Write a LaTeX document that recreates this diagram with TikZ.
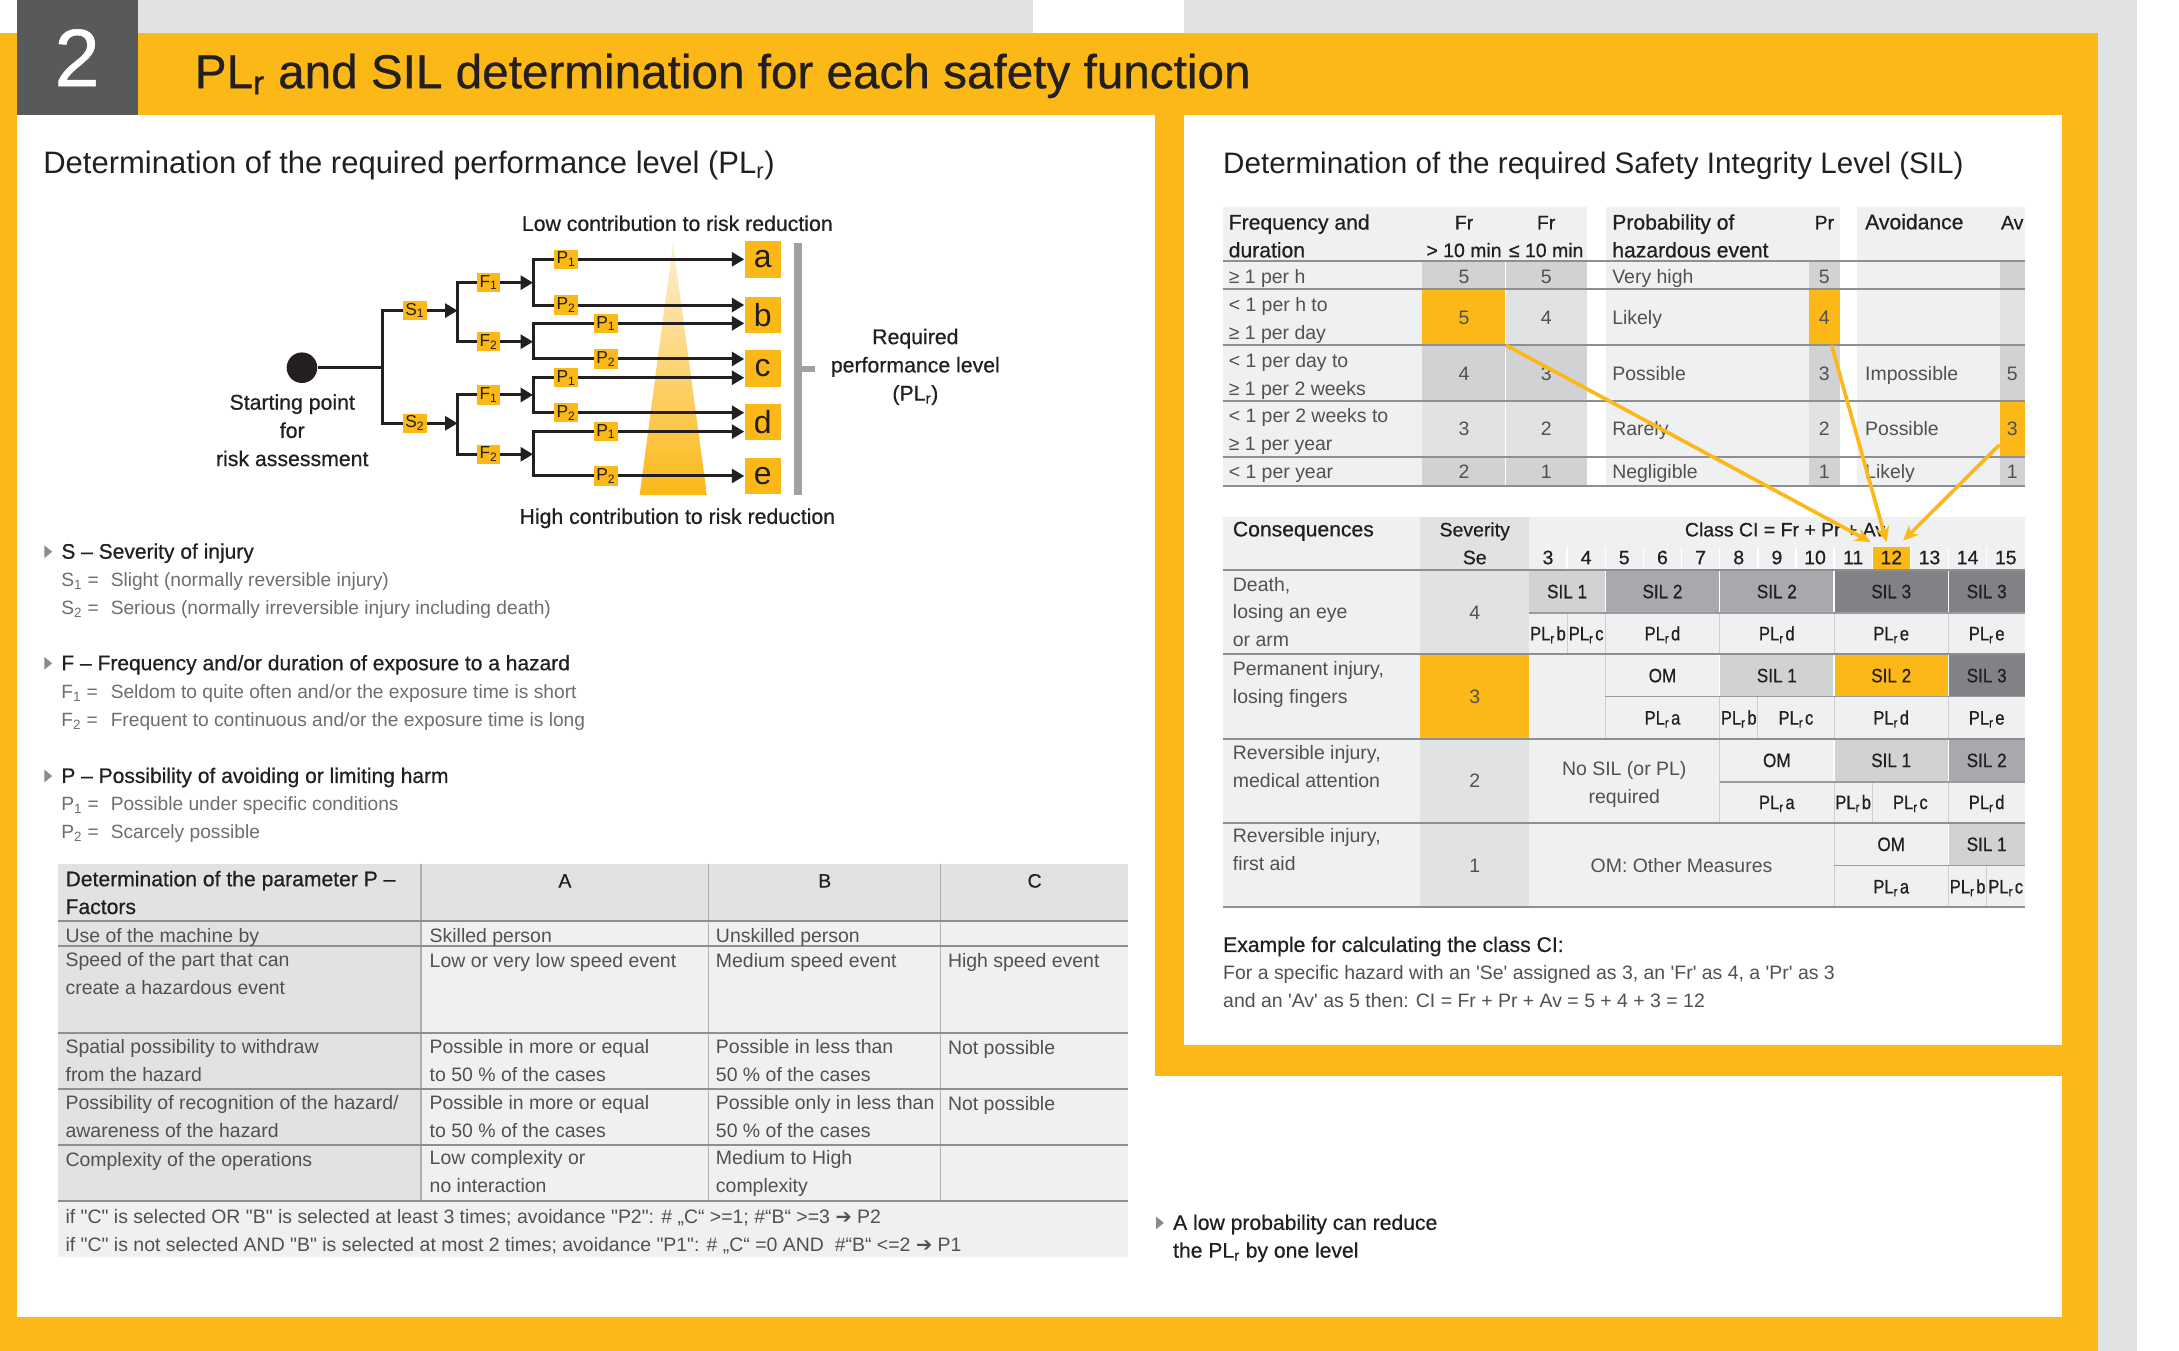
\documentclass[tikz,border=0pt]{standalone}
\usepackage{fontspec}
\setmainfont{Liberation Sans}
\newfontfamily\plainf{Liberation Sans}
\newfontfamily\medf{Liberation Sans}[FakeBold=0.6]
\newfontfamily\djv{DejaVu Sans}
\usepackage{graphicx}
\usetikzlibrary{arrows.meta}
\definecolor{pyellow}{HTML}{FBB817}
\definecolor{ypale}{HTML}{FEF0D2}
\definecolor{dgray}{HTML}{58595B}
\definecolor{lgray}{HTML}{E1E2E4}
\definecolor{tblack}{HTML}{231F20}
\definecolor{tgray}{HTML}{505153}
\definecolor{lgtxt}{HTML}{6D6E71}
\definecolor{cellL}{HTML}{EFF0F1}
\definecolor{cellM}{HTML}{E1E2E4}
\definecolor{cellD}{HTML}{D1D2D4}
\definecolor{silB}{HTML}{A7A9AC}
\definecolor{silC}{HTML}{808285}
\definecolor{hrule}{HTML}{8E8F91}
\definecolor{mrule}{HTML}{9A9B9D}
\definecolor{vrule}{HTML}{CDCED0}
\definecolor{lvrule}{HTML}{AEAFB1}
\definecolor{bargray}{HTML}{A0A1A3}
\definecolor{bulgray}{HTML}{8A8B8D}
\newcommand\ff[2]{\plainf\fontsize{#1}{#2}\selectfont}
\newcommand\mf[2]{\medf\fontsize{#1}{#2}\selectfont}
\newcommand\sub[1]{\textsubscript{#1}}
\newcommand\PLr[1]{PL\sub{r}\kern1.5pt#1}
\newcommand\PLn[1]{\scalebox{0.85}[1]{\PLr{#1}}}
\newcommand\cz[1]{\scalebox{0.88}[1]{#1}}
\newcommand\E[1]{1100.2+27.45*(#1-3)}
\tikzset{
  body/.style={font=\ff{14}{20}, text=tgray},
  bl/.style={body, anchor=base west},
  bc/.style={body, anchor=base},
  hd/.style={font=\mf{15.2}{20}, text=tblack, anchor=base west},
  hdc/.style={font=\mf{14}{20}, text=tblack, anchor=base},
  lhd/.style={font=\mf{15.1}{20}, text=tblack, anchor=base west},
  lit/.style={font=\ff{13.8}{20}, text=lgtxt, anchor=base west},
  cellt/.style={body, anchor=north west, align=left, execute at begin node={\rule{0pt}{11pt}}},
  cellh/.style={cellt, font=\mf{15.2}{20}, text=tblack},
  tline/.style={line width=2.2pt, draw=tblack},
  arr/.style={tline, -{Triangle[length=9pt,width=10pt]}},
  lab/.style={fill=pyellow, minimum width=17pt, minimum height=14pt, font=\ff{12.5}{13}, text=tblack},
  lbox/.style={fill=pyellow, minimum size=26pt, font=\ff{23}{23}, text=tblack},
  gtxt/.style={font=\mf{15.3}{20.3}, text=tblack, align=center},
  yarr/.style={draw=pyellow, line width=2.6pt, -{Stealth[length=11pt,width=10pt]}},
  hr/.style={draw=hrule, line width=1.3pt},
  mr/.style={draw=mrule, line width=1.2pt},
  vr/.style={draw=vrule, line width=0.8pt},
  lvr/.style={draw=lvrule, line width=0.9pt},
  wr/.style={draw=white, line width=1pt},
  bul/.style={fill=bulgray},
}
\begin{document}
\begin{tikzpicture}[x=1pt,y=-1pt, every node/.style={inner sep=0pt}]
\useasboundingbox (0,0) rectangle (1568,972);
% ---------- background ----------
\fill[white] (0,0) rectangle (1568,972);
\fill[lgray] (99,0) rectangle (743,24);
\fill[lgray] (852,0) rectangle (1538,24);
\fill[lgray] (1510,24) rectangle (1538,972);
\fill[pyellow] (0,24) rectangle (1510,972);
\fill[dgray] (12,0) rectangle (99,83);
\node[font=\mf{58.7}{60}, text=white, anchor=base] (num) at (55.5,62) {2};
\node[font=\mf{34.3}{40}, text=tblack, anchor=base west] (title) at (140,63.5) {PL\sub{r} and SIL determination for each safety function};
\fill[white] (12,83) rectangle (831,948);
\fill[white] (852,83) rectangle (1484,752);
\fill[white] (831,774) rectangle (1484,948);
\node[font=\ff{22.3}{26}, text=tblack, anchor=base west] (hleft) at (31,125) {Determination of the required performance level (PL\sub{r})};
\node[font=\ff{21.3}{26}, text=tblack, anchor=base west] (hright) at (880,125) {Determination of the required Safety Integrity Level (SIL)};

% ---------- risk graph ----------
\shade[top color=ypale, bottom color=pyellow] (484.3,175.1) -- (508.7,356.2) -- (460.3,356.2) -- cycle;
\node[gtxt] (low) at (487.4,160.7) {Low contribution to risk reduction};
\node[gtxt] (high) at (487.4,373) {High contribution to risk reduction};
\node[circle, fill=tblack, minimum size=22pt] (start) at (217.3,264.6) {};
\node[gtxt] (startlbl) at (210.3,309.6) {Starting point\\for\\risk assessment};
\node[lbox] (a) at (548.8,186.7) {a};
\node[lbox] (b) at (548.8,226.4) {b};
\node[lbox] (c) at (548.8,265.2) {c};
\node[lbox] (d) at (548.8,303.8) {d};
\node[lbox] (e) at (548.8,342.8) {e};
\fill[bargray] (571.5,174.6) rectangle (577.3,356.2);
\fill[bargray] (577.3,263.3) rectangle (586.2,267.7);
\node[gtxt] (req) at (658.7,264) {Required\\performance level\\(PL\sub{r})};

\coordinate (j0) at (275.1,264.6);
\coordinate (jS1) at (275.1,223.5);
\coordinate (jS2) at (275.1,304.6);
\coordinate (kS1) at (329.3,223.5);
\coordinate (kS2) at (329.3,304.6);
\draw[tline] (start) -- (j0);
\draw[tline, line cap=rect] (jS1) -- (jS2);
\draw[arr] (jS1) -- (kS1);
\draw[arr] (jS2) -- (kS2);
\coordinate (f1a) at (329.3,203.4); \coordinate (f2a) at (329.3,245.9);
\coordinate (f1b) at (329.3,284.2); \coordinate (f2b) at (329.3,326.9);
\coordinate (g1a) at (383.6,203.4); \coordinate (g2a) at (383.6,245.9);
\coordinate (g1b) at (383.6,284.2); \coordinate (g2b) at (383.6,326.9);
\draw[tline, line cap=rect] (f1a) -- (f2a);
\draw[tline, line cap=rect] (f1b) -- (f2b);
\draw[arr] (f1a) -- (g1a);
\draw[arr] (f2a) -- (g2a);
\draw[arr] (f1b) -- (g1b);
\draw[arr] (f2b) -- (g2b);
\coordinate (p11) at (383.6,186.6); \coordinate (p12) at (383.6,219.5);
\coordinate (p21) at (383.6,232.7); \coordinate (p22) at (383.6,258.3);
\coordinate (p31) at (383.6,271.8); \coordinate (p32) at (383.6,297);
\coordinate (p41) at (383.6,310.6); \coordinate (p42) at (383.6,342.5);
\draw[tline, line cap=rect] (p11) -- (p12);
\draw[tline, line cap=rect] (p21) -- (p22);
\draw[tline, line cap=rect] (p31) -- (p32);
\draw[tline, line cap=rect] (p41) -- (p42);
\draw[arr] (p11) -- (p11 -| a.west);
\draw[arr] (p12) -- (p12 -| b.west);
\draw[arr] (p21) -- (p21 -| b.west);
\draw[arr] (p22) -- (p22 -| c.west);
\draw[arr] (p31) -- (p31 -| c.west);
\draw[arr] (p32) -- (p32 -| d.west);
\draw[arr] (p41) -- (p41 -| d.west);
\draw[arr] (p42) -- (p42 -| e.west);
\node[lab] (S1) at (298.5,223.5) {S\sub{1}};
\node[lab] (S2) at (298.5,304.6) {S\sub{2}};
\node[lab] (F1a) at (351.6,203.4) {F\sub{1}};
\node[lab] (F2a) at (351.6,245.9) {F\sub{2}};
\node[lab] (F1b) at (351.6,284.2) {F\sub{1}};
\node[lab] (F2b) at (351.6,326.9) {F\sub{2}};
\node[lab] (P11) at (407.4,186.6) {P\sub{1}};
\node[lab] (P12) at (407.4,219.5) {P\sub{2}};
\node[lab] (P21) at (436,232.7) {P\sub{1}};
\node[lab] (P22) at (436,258.3) {P\sub{2}};
\node[lab] (P31) at (407.4,271.8) {P\sub{1}};
\node[lab] (P32) at (407.4,297) {P\sub{2}};
\node[lab] (P41) at (436,310.6) {P\sub{1}};
\node[lab] (P42) at (436,342.5) {P\sub{2}};

% ---------- legend list ----------
\fill[bul] (32,392.5) -- (37.5,397) -- (32,401.5) -- cycle;
\node[lhd] (hS) at (44,402) {S – Severity of injury};
\node[lit] (s1l) at (44,422) {S\sub{1} =};
\node[lit] (s1t) at (79.5,422) {Slight (normally reversible injury)};
\node[lit] (s2l) at (44,442) {S\sub{2} =};
\node[lit] (s2t) at (79.5,442) {Serious (normally irreversible injury including death)};
\fill[bul] (32,472.8) -- (37.5,477.3) -- (32,481.8) -- cycle;
\node[lhd] (hF) at (44,482.3) {F – Frequency and/or duration of exposure to a hazard};
\node[lit] (f1l) at (44,502.7) {F\sub{1} =};
\node[lit] (f1t) at (79.5,502.7) {Seldom to quite often and/or the exposure time is short};
\node[lit] (f2l) at (44,522.6) {F\sub{2} =};
\node[lit] (f2t) at (79.5,522.6) {Frequent to continuous and/or the exposure time is long};
\fill[bul] (32,553.9) -- (37.5,558.4) -- (32,562.9) -- cycle;
\node[lhd] (hP) at (44,563.4) {P – Possibility of avoiding or limiting harm};
\node[lit] (p1l) at (44,583) {P\sub{1} =};
\node[lit] (p1t) at (79.5,583) {Possible under specific conditions};
\node[lit] (p2l) at (44,603.5) {P\sub{2} =};
\node[lit] (p2t) at (79.5,603.5) {Scarcely possible};

% ---------- left table ----------
\fill[cellL] (42,621.7) rectangle (812,904.3);
\fill[cellM] (42,621.7) rectangle (812,662.7);
\fill[cellM] (42,662.7) rectangle (303,864);
\foreach \x in {303,510,677} \draw[lvr] (\x,621.7) -- (\x,864);
\foreach \y in {662.7,680.7,743.6,783.9,823.9,864} \draw[hr] (42,\y) -- (812,\y);
\node[cellh] (t00) at (47,626.5) {Determination of the parameter P –\\Factors};
\node[hdc] (tA) at (406.5,638.7) {A};
\node[hdc] (tB) at (593.5,638.7) {B};
\node[hdc] (tC) at (744.5,638.7) {C};
\node[cellt] at (47,667.2) {Use of the machine by};
\node[cellt] at (309,667.2) {Skilled person};
\node[cellt] at (515,667.2) {Unskilled person};
\node[cellt] at (47,685.2) {Speed of the part that can\\create a hazardous event};
\node[cellt] at (309,685.2) {Low or very low speed event};
\node[cellt] at (515,685.2) {Medium speed event};
\node[cellt] at (682,685.2) {High speed event};
\node[cellt] at (47,747.6) {Spatial possibility to withdraw\\from the hazard};
\node[cellt] at (309,747.6) {Possible in more or equal\\to 50 \% of the cases};
\node[cellt] at (515,747.6) {Possible in less than\\50 \% of the cases};
\node[cellt] at (682,747.6) {Not possible};
\node[cellt] at (47,787.9) {Possibility of recognition of the hazard/\\awareness of the hazard};
\node[cellt] at (309,787.9) {Possible in more or equal\\to 50 \% of the cases};
\node[cellt] at (515,787.9) {Possible only in less than\\50 \% of the cases};
\node[cellt] at (682,787.9) {Not possible};
\node[cellt] at (47,827.9) {Complexity of the operations};
\node[cellt] at (309,827.9) {Low complexity or\\no interaction};
\node[cellt] at (515,827.9) {Medium to High\\complexity};
\node[cellt] at (47,870) {if "C" is selected OR "B" is selected at least 3 times; avoidance "P2": \# „C“ >=1; \#“B“ >=3 {\djv ➔} P2\\if "C" is not selected AND "B" is selected at most 2 times; avoidance "P1": \# „C“ =0 AND \ \#“B“ <=2 {\djv ➔} P1};

% ---------- right upper table ----------
\fill[cellL] (880,148.7) rectangle (1141.7,349.5);
\fill[cellL] (1155.5,148.7) rectangle (1323.9,349.5);
\fill[cellL] (1336.4,148.7) rectangle (1457,349.5);
\foreach \xa/\xb in {1023.6/1083.5,1083.5/1141.7,1301.8/1323.9,1438.9/1457} {
  \fill[cellD] (\xa,187.6) rectangle (\xb,208.2);
  \fill[cellM] (\xa,208.2) rectangle (\xb,248.3);
  \fill[cellD] (\xa,248.3) rectangle (\xb,288.5);
  \fill[cellM] (\xa,288.5) rectangle (\xb,328.6);
  \fill[cellD] (\xa,328.6) rectangle (\xb,349.5);
}
\fill[pyellow] (1023.6,208.2) rectangle (1083.5,248.3);
\fill[pyellow] (1301.8,208.2) rectangle (1323.9,248.3);
\fill[pyellow] (1438.9,288.5) rectangle (1457,328.6);
\draw[wr] (1083.5,187.6) -- (1083.5,349.5);
\foreach \y in {187.6,208.2,248.3,288.5,328.6,349.5} \draw[hr] (880,\y) -- (1457,\y);
\node[cellh] at (884,154) {Frequency and\\duration};
\node[hdc] at (1053.5,165) {Fr};
\node[hdc] at (1053.5,185) {> 10 min};
\node[hdc] at (1112.6,165) {Fr};
\node[hdc] at (1112.6,185) {≤ 10 min};
\node[cellh] at (1160,154) {Probability of\\hazardous event};
\node[hdc] at (1312.8,165) {Pr};
\node[hd] at (1342,165) {Avoidance};
\node[hdc] at (1448,165) {Av};
% row 1
\node[bl] at (884,204) {≥ 1 per h};
\node[bc] at (1053.5,204) {5};
\node[bc] at (1112.6,204) {5};
\node[bl] at (1160,204) {Very high};
\node[bc] at (1312.8,204) {5};
% row 2
\node[cellt] at (884,214) {< 1 per h to\\≥ 1 per day};
\node[bc] at (1053.5,233.5) {5};
\node[bc] at (1112.6,233.5) {4};
\node[bl] at (1160,233.5) {Likely};
\node[bc] at (1312.8,233.5) {4};
% row 3
\node[cellt] at (884,254) {< 1 per day to\\≥ 1 per 2 weeks};
\node[bc] at (1053.5,273.5) {4};
\node[bc] at (1112.6,273.5) {3};
\node[bl] at (1160,273.5) {Possible};
\node[bc] at (1312.8,273.5) {3};
\node[bl] at (1342,273.5) {Impossible};
\node[bc] at (1448,273.5) {5};
% row 4
\node[cellt] at (884,294) {< 1 per 2 weeks to\\≥ 1 per year};
\node[bc] at (1053.5,313.5) {3};
\node[bc] at (1112.6,313.5) {2};
\node[bl] at (1160,313.5) {Rarely};
\node[bc] at (1312.8,313.5) {2};
\node[bl] at (1342,313.5) {Possible};
\node[bc] at (1448,313.5) {3};
% row 5
\node[bl] at (884,344.5) {< 1 per year};
\node[bc] at (1053.5,344.5) {2};
\node[bc] at (1112.6,344.5) {1};
\node[bl] at (1160,344.5) {Negligible};
\node[bc] at (1312.8,344.5) {1};
\node[bl] at (1342,344.5) {Likely};
\node[bc] at (1448,344.5) {1};

% ---------- right lower table ----------
\fill[cellL] (880,371.8) rectangle (1457.05,652.9);
\fill[cellM] (1022.1,371.8) rectangle (1100.2,652.9);
\fill[pyellow] (1022.1,470.8) rectangle (1100.2,531.5);
\fill[pyellow] ({\E{12}},393.4) rectangle ({\E{13}},410.2);
\fill[cellD] ({\E{3}},410.2) rectangle ({\E{5}},440.9);
\fill[silB] ({\E{5}},410.2) rectangle ({\E{11}},440.9);
\fill[silC] ({\E{11}},410.2) rectangle ({\E{16}},440.9);
\fill[cellD] ({\E{8}},470.8) rectangle ({\E{11}},501.3);
\fill[pyellow] ({\E{11}},470.8) rectangle ({\E{14}},501.3);
\fill[silC] ({\E{14}},470.8) rectangle ({\E{16}},501.3);
\fill[cellD] ({\E{11}},531.5) rectangle ({\E{14}},562.5);
\fill[silB] ({\E{14}},531.5) rectangle ({\E{16}},562.5);
\fill[cellD] ({\E{14}},592) rectangle ({\E{16}},622.9);
% separators
\foreach \k in {4,...,15} \draw[wr] ({\E{\k}},393.4) -- ({\E{\k}},410.2);
\foreach \k in {5,8,11,14} \draw[wr] ({\E{\k}},410.2) -- ({\E{\k}},440.9);
\foreach \k in {4,5,8,11,14} \draw[vr] ({\E{\k}},440.9) -- ({\E{\k}},470.8);
\draw[vr] ({\E{5}},470.8) -- ({\E{5}},501.3);
\foreach \k in {8,11,14} \draw[wr] ({\E{\k}},470.8) -- ({\E{\k}},501.3);
\foreach \k in {5,8,9,11,14} \draw[vr] ({\E{\k}},501.3) -- ({\E{\k}},531.5);
\draw[vr] ({\E{8}},531.5) -- ({\E{8}},562.5);
\foreach \k in {11,14} \draw[wr] ({\E{\k}},531.5) -- ({\E{\k}},562.5);
\foreach \k in {8,11,12,14} \draw[vr] ({\E{\k}},562.5) -- ({\E{\k}},592);
\draw[vr] ({\E{11}},592) -- ({\E{11}},622.9);
\draw[wr] ({\E{14}},592) -- ({\E{14}},622.9);
\foreach \k in {11,14,15} \draw[vr] ({\E{\k}},622.9) -- ({\E{\k}},652.9);
\draw[mr] ({\E{3}},440.9) -- ({\E{16}},440.9);
\draw[mr] ({\E{5}},501.3) -- ({\E{16}},501.3);
\draw[mr] ({\E{8}},562.5) -- ({\E{16}},562.5);
\draw[mr] ({\E{11}},622.9) -- ({\E{16}},622.9);
\foreach \y in {410.2,470.8,531.5,592,652.9} \draw[hr] (880,\y) -- (1457.05,\y);
% header text
\node[hd] at (887,386) {Consequences};
\node[hdc] at (1061.2,386) {Severity};
\node[hdc] at (1061.2,406) {Se};
\node[hdc] at (1284.5,386) {Class CI = Fr + Pr + Av};
\foreach \k in {3,...,15} \node[hdc] at ({\E{\k}+13.725},406) {\k};
% death row
\node[cellt] at (887,415) {Death,\\losing an eye\\or arm};
\node[bc] at (1061.2,445.5) {4};
\node[hdc] at (1127.65,430.5) {\cz{SIL 1}};
\node[hdc] at (1196.3,430.5) {\cz{SIL 2}};
\node[hdc] at (1278.6,430.5) {\cz{SIL 2}};
\node[hdc] at (1360.9,430.5) {\cz{SIL 3}};
\node[hdc] at (1429.6,430.5) {\cz{SIL 3}};
\node[hdc] at (1113.9,460.8) {\PLn{b}};
\node[hdc] at (1141.4,460.8) {\PLn{c}};
\node[hdc] at (1196.3,460.8) {\PLn{d}};
\node[hdc] at (1278.6,460.8) {\PLn{d}};
\node[hdc] at (1360.9,460.8) {\PLn{e}};
\node[hdc] at (1429.6,460.8) {\PLn{e}};
% permanent row
\node[cellt] at (887,476) {Permanent injury,\\losing fingers};
\node[bc] at (1061.2,506) {3};
\node[hdc] at (1196.3,491) {\cz{OM}};
\node[hdc] at (1278.6,491) {\cz{SIL 1}};
\node[hdc] at (1360.9,491) {\cz{SIL 2}};
\node[hdc] at (1429.6,491) {\cz{SIL 3}};
\node[hdc] at (1196.3,521.4) {\PLn{a}};
\node[hdc] at (1251.2,521.4) {\PLn{b}};
\node[hdc] at (1292.35,521.4) {\PLn{c}};
\node[hdc] at (1360.9,521.4) {\PLn{d}};
\node[hdc] at (1429.6,521.4) {\PLn{e}};
% reversible medical
\node[cellt] at (887,536) {Reversible injury,\\medical attention};
\node[bc] at (1061.2,567) {2};
\node[bc] at (1168.8,558) {No SIL (or PL)};
\node[bc] at (1168.8,578) {required};
\node[hdc] at (1278.6,552) {\cz{OM}};
\node[hdc] at (1360.9,552) {\cz{SIL 1}};
\node[hdc] at (1429.6,552) {\cz{SIL 2}};
\node[hdc] at (1278.6,582.2) {\PLn{a}};
\node[hdc] at (1333.5,582.2) {\PLn{b}};
\node[hdc] at (1374.7,582.2) {\PLn{c}};
\node[hdc] at (1429.6,582.2) {\PLn{d}};
% reversible first aid
\node[cellt] at (887,596) {Reversible injury,\\first aid};
\node[bc] at (1061.2,627.5) {1};
\node[bc] at (1210,627.5) {OM: Other Measures};
\node[hdc] at (1360.9,612.4) {\cz{OM}};
\node[hdc] at (1429.6,612.4) {\cz{SIL 1}};
\node[hdc] at (1360.9,642.9) {\PLn{a}};
\node[hdc] at (1415.9,642.9) {\PLn{b}};
\node[hdc] at (1443.3,642.9) {\PLn{c}};

% ---------- yellow arrows ----------
\coordinate (frc) at (1083.5,248.3);
\coordinate (prc) at (1318,248.3);
\coordinate (avc) at (1438.9,320);
\coordinate (ci1) at (1346,390);
\coordinate (ci2) at (1357.5,390);
\coordinate (ci3) at (1369.5,389);
\draw[yarr] (frc) -- (ci1);
\draw[yarr] (prc) -- (ci2);
\draw[yarr] (avc) -- (ci3);

% ---------- example ----------
\node[hd] (exh) at (880,685) {Example for calculating the class CI:};
\node[bl] (ex1) at (880,705) {For a specific hazard with an 'Se' assigned as 3, an 'Fr' as 4, a 'Pr' as 3};
\node[bl] (ex2) at (880,725) {and an 'Av' as 5 then: CI = Fr + Pr + Av = 5 + 4 + 3 = 12};

% ---------- note ----------
\fill[bul] (832,875.5) -- (837.5,880) -- (832,884.5) -- cycle;
\node[hd] (n1) at (844,885) {A low probability can reduce};
\node[hd] (n2) at (844,905) {the PL\sub{r} by one level};
\end{tikzpicture}
\end{document}
